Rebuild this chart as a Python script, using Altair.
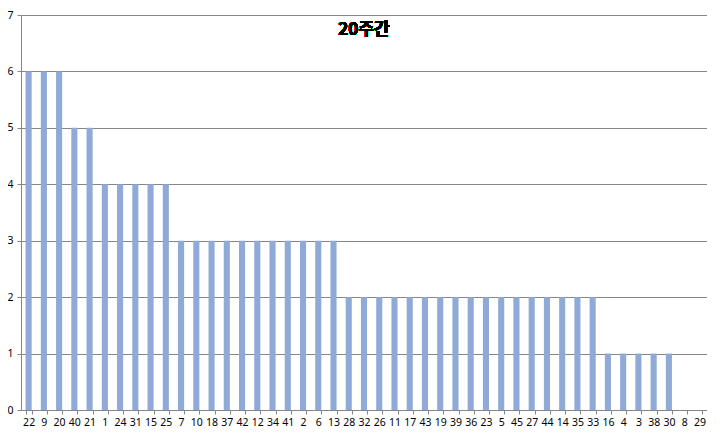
import altair as alt
import pandas as pd

numbers = ["22", "9", "20", "40", "21", "1", "24", "31", "15", "25", "7", "10", "18", "37", "42",
           "12", "34", "41", "2", "6", "13", "28", "32", "26", "11", "17", "43", "19", "39", "36",
           "23", "5", "45", "27", "44", "14", "35", "33", "16", "4", "3", "38", "30", "8", "29"]
counts = [6, 6, 6, 5, 5, 4, 4, 4, 4, 4, 3, 3, 3, 3, 3,
          3, 3, 3, 3, 3, 3, 2, 2, 2, 2, 2, 2, 2, 2, 2,
          2, 2, 2, 2, 2, 2, 2, 2, 1, 1, 1, 1, 1, 0, 0]
title_text = "20주간"
y_ticks = [0, 1, 2, 3, 4, 5, 6, 7]

df = pd.DataFrame({"number": numbers, "count": counts})

W, H = 686, 395

bars = alt.Chart(df).mark_bar(color="#8FAAD6").encode(
    x=alt.X("number:N", sort=numbers, title=None,
            scale=alt.Scale(paddingInner=0.6, paddingOuter=0.3),
            axis=alt.Axis(labelAngle=0, labelFontSize=10.5, labelFont="Noto Sans",
                          labelColor="#000000", tickBand="extent", tickSize=4,
                          tickColor="#868686", domainColor="#868686", labelPadding=3,
                          grid=False)),
    y=alt.Y("count:Q", title=None,
            scale=alt.Scale(domain=[0, 7], nice=False),
            axis=alt.Axis(values=y_ticks, labelFontSize=10.5, labelFont="Noto Sans",
                          labelColor="#000000", tickSize=4, tickColor="#868686",
                          labelPadding=4,
                          gridColor="#868686", gridOpacity=1, domainColor="#868686")),
)

title = alt.Chart(df).mark_text(fontSize=17, fontWeight="bold", font="Noto Sans CJK KR",
                                color="#000000").encode(
    x=alt.value(W / 2), y=alt.value(15), text=alt.value(title_text)
)

chart = alt.layer(bars, title).properties(
    width=W, height=H,
    autosize=alt.AutoSizeParams(type="none"),
    padding={"left": 13, "top": 7, "right": 0, "bottom": 23},
).configure_view(stroke=None).configure(background="#ffffff")

chart.save("out.html", embed_options={"renderer": "svg", "actions": False})
